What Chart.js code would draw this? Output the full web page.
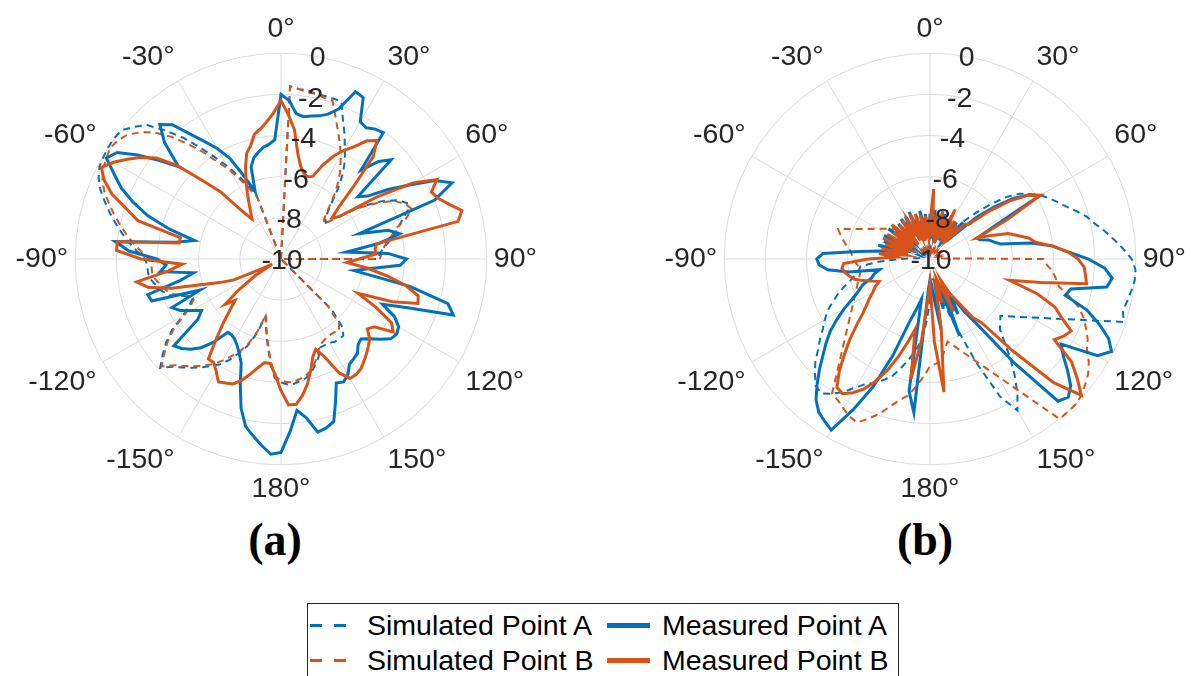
<!DOCTYPE html>
<html lang="en">
<head>
<meta charset="UTF-8">
<title>Radiation patterns, points A and B</title>
<style>
    body {
        margin: 0;
        width: 1191px;
        height: 676px;
        overflow: hidden;
        position: relative;
        background: #fff;
        font-family: "Liberation Sans", Arial, sans-serif;
        color: #262626;
    }
    canvas.plot {
        position: absolute;
        top: 13px;
    }
    .caption {
        position: absolute;
        top: 513px;
        width: 120px;
        text-align: center;
        font-family: "Liberation Serif", "DejaVu Serif", serif;
        font-weight: bold;
        font-size: 46px;
        color: #000;
    }
    .legend {
        position: absolute;
        left: 307px;
        top: 603px;
        width: 590px;
        height: 90px;
        border: 1px solid #262626;
        background: #fff;
    }
    .item {
        position: absolute;
        font-size: 28.5px;
        line-height: 34px;
        color: #000;
        white-space: nowrap;
    }
    .swatch {
        position: absolute;
    }
    .dash {
        width: 36px;
        height: 2.5px;
    }
    .solid {
        width: 43px;
        height: 5px;
    }
</style>
<script src="https://cdn.jsdelivr.net/npm/chart.js"></script>
</head>
<body>
<canvas id="plotA" class="plot" width="560" height="494" style="left:-3px"></canvas>
<canvas id="plotB" class="plot" width="560" height="494" style="left:646px"></canvas>
<div class="caption" style="left:215px">(a)</div>
<div class="caption" style="left:865px">(b)</div>

<div class="legend" id="legend"></div>

<script>
// angle grid: one sample every 3 degrees, 0 at top, clockwise
const angles = Array.from({length: 120}, (_, i) => i * 3);
const angleTicks = ['0°', '30°', '60°', '90°', '120°', '150°', '180°',
                    '-150°', '-120°', '-90°', '-60°', '-30°'];
const rTicks = [-10, -8, -6, -4, -2, 0];

// (a) gain in dB, rows of 30 degrees (0..177, then -180..-3)
// null = no sample, the trace runs straight across
const measuredA_a = [
    -2.0, -2.3, -2.9, -3.0, -2.9, -2.8, -2.6, -2.2, -1.1, -1.2,
    -2.3, -2.4, -2.2, -2.1, -4.2, -3.3, -2.8, -5.2, -4.8, -3.8,
    -2.8, -1.6, -0.9, -2.0, -6.0, -4.6, -4.1, -5.2, -6.8, -4.8,
    -3.9, -4.2, -5.6, -6.4, -3.6, -1.6, -1.2, -3.4, -4.6, -3.8,
    -3.4, -3.3, -3.4, -3.8, -4.2, -4.5, -4.4, -4.1, -4.0, -3.9,
    -3.5, -3.3, -3.4, -2.6, -1.7, -1.5, -1.4, -2.2, -2.6, -1.6,
    -0.6, -0.5, -0.9, -1.3, -1.7, -2.5, -3.6, -4.6, -5.0, -5.3,
    -5.5, -5.6, -5.6, -4.8, -4.2, -3.8, -3.5, -3.3, -5.0, -5.4,
    -5.0, -4.5, -4.2, -5.8, -3.4, -3.3, -5.0, -5.7, -4.1, -4.4,
    -4.0, -2.6, -1.9, -4.8, -5.7, -4.4, -3.2, -2.3, -1.5, -0.9,
    -0.2, -0.5, -1.4, -2.4, -3.3, -2.0, -1.2, -1.6, -2.5, -3.2,
    -3.8, -4.5, -5.6, -6.5, -5.3, -4.9, -4.7, -4.5, -4.4, -4.2
];
const measuredB_a = [
    -2.3, -3.0, -3.7, -4.8, -5.4, -5.7, -5.8, -5.7, -5.0, -4.4,
    -3.9, -3.5, -2.9, -2.6, -3.3, -5.0, -6.2, -6.8, -6.5, -4.5,
    -2.6, -1.5, -2.0, -1.8, -1.4, -0.9, -1.2, -5.3, -5.4, -5.4,
    -6.2, -6.8, -5.8, -4.8, -3.8, -3.1, -3.0, -4.2, -5.9, -4.8,
    -3.8, -3.5, -4.4, -4.6, -4.2, -4.0, -3.8, -3.6, -3.4, -3.3,
    -3.3, -3.8, -4.8, -5.3, -5.0, -4.4, -3.8, -3.3, -2.9, -2.9,
    -3.6, -4.4, -4.9, -4.9, -4.6, -4.2, -3.8, -3.5, -3.4, -3.3,
    -3.7, -4.0, -4.0, -5.0, -5.8, -6.5, -7.0, -6.5, -7.5, -8.5,
    -9.5, -9.0, -7.5, -6.8, -6.0, -4.5, -3.4, -2.9, -4.5, -5.2,
    -3.2, -2.0, -2.0, -5.0, -5.0, -2.8, -2.1, -1.2, -0.6, -0.2,
    -0.6, -1.1, -1.6, -2.2, -3.2, -4.6, -5.6, -7.0, -7.6, -7.3,
    -6.9, -6.4, -5.8, -5.2, -4.6, -4.3, -3.8, -3.6, -3.3, -2.9
];
const simulatedA_a = [
    -10, -1.6, -1.7, -1.7, -1.8, -1.8, -1.8, -1.8, -2.6, -3.2,
    -3.8, -4.3, -4.9, -5.6, -6.3, -6.8, -7.1, -7.2, -6.3, -5.3,
    -4.4, -3.7, -3.3, -3.4, -3.8, -4.1, -4.4, -4.7, -5.0, -5.2,
    -5.3, -10, -10, -10, -10, -10, -10, -10, -10, -10,
    -10, -10, -10, -10, -10, -6.5, -5.5, -5.2, -5.2, -5.2,
    -5.3, -5.3, -5.3, -4.9, -4.6, -4.3, -4.1, -4.0, -3.9, -3.9,
    -4.0, -4.2, -5.0, -5.8, -6.5, -7.1, -6.2, -5.5, -5.0, -4.5,
    -4.1, -3.8, -3.5, -3.2, -2.9, -2.6, -2.1, -2.6, -3.1, -3.7,
    -4.5, -5.0, -5.3, -5.0, -4.3, -4.0, -3.8, -3.6, -3.5, -3.5,
    -3.4, -3.0, -2.6, -2.2, -1.8, -1.4, -1.0, -0.6, -0.3, -0.1,
    -0.05, 0.0, 0.0, -0.05, -0.4, -0.8, -1.6, -2.4, -3.3, -4.1,
    -4.8, -5.5, -6.1, -6.6, -10, -10, -10, -10, -10, -10
];
const simulatedB_a = [
    -10, -1.6, -1.7, -1.8, -1.8, -1.9, -1.9, -2.6, -3.2, -3.7,
    -4.2, -4.7, -5.2, -5.8, -6.4, -6.9, -7.2, -7.3, -6.4, -5.4,
    -4.5, -3.8, -3.4, -3.2, -3.6, -4.2, -4.5, -4.8, -5.0, -5.1,
    -5.2, -10, -10, -10, -10, -10, -10, -10, -10, -10,
    -10, -10, -10, -10, -10, -6.8, -5.8, -5.5, -5.6, -5.6,
    -5.6, -5.5, -5.4, -5.0, -4.7, -4.4, -4.2, -4.1, -4.0, -4.0,
    -4.1, -4.3, -5.1, -5.9, -6.6, -7.2, -6.3, -5.6, -5.1, -4.7,
    -4.3, -3.9, -3.6, -3.3, -3.0, -2.7, -2.2, -2.7, -3.2, -3.8,
    -4.6, -5.1, -5.4, -5.1, -4.5, -4.2, -4.0, -3.8, -3.7, -3.7,
    -3.6, -3.2, -2.8, -2.4, -2.0, -1.6, -1.2, -0.8, -0.5, -0.3,
    -0.2, -0.1, -0.2, -0.4, -0.8, -1.3, -2.0, -2.8, -3.6, -4.4,
    -5.0, -5.7, -6.3, -6.8, -10, -10, -10, -10, -10, -10
];

// (b)
const measuredA_b = [
    -7.8, -9.0, -7.6, -8.8, -7.9, -9.2, -7.7, -8.6, -7.9, -9.0,
    -7.9, -8.8, -7.8, -8.6, -7.6, -8.4, -7.0, -6.0, -5.0, -4.3,
    -3.9, -6.5, -7.5, -7.4, -7.0, -6.8, -6.5, -5.0, -4.0, -3.3,
    -2.3, -1.5, -1.1, -1.3, -3.0, -3.2, -2.0, -1.2, -0.5, -0.1,
    -0.6, -2.4, -2.0, -1.4, -0.8, -0.5, -0.7, -3.5, -6.0, -7.0,
    -8.0, -7.0, -8.5, -6.0, -8.8, -7.5, -9.0, -6.5, -8.0, -8.8,
    -9.0, -8.5, -2.5, -3.5, -8.0, -7.5, -6.8, -5.0, -3.2, -1.8,
    -0.4, -0.6, -0.8, -1.2, -1.8, -2.4, -3.0, -3.5, -4.0, -4.6,
    -5.2, -5.8, -6.2, -6.5, -7.0, -7.2, -7.5, -6.0, -5.0, -4.6,
    -4.5, -4.8, -6.5, -7.5, -8.2, -7.4, -8.6, -7.6, -8.8, -7.5,
    -8.2, -9.0, -7.5, -8.4, -7.6, -8.8, -7.7, -9.0, -7.6, -8.3,
    -7.6, -8.9, -7.5, -8.6, -7.7, -9.0, -7.6, -8.5, -7.8, -8.9
];
const measuredB_b = [
    -8.3, -6.6, -8.9, -7.8, -9.2, -7.6, -8.7, -7.9, -8.9, -7.3,
    -8.6, -7.8, -9.0, -7.9, -8.7, -7.6, -7.5, -6.3, -5.2, -4.3,
    -3.8, -5.8, -7.5, -6.8, -6.0, -5.6, -5.1, -4.8, -4.0, -3.3,
    -2.8, -2.5, -2.4, -2.3, -4.5, -6.0, -4.5, -3.5, -3.0, -2.3,
    -2.5, -2.8, -1.5, -0.8, -0.1, -1.5, -4.0, -6.0, -6.5, -7.5,
    -8.0, -8.8, -7.2, -8.5, -9.0, -7.8, -8.6, -6.5, -3.5, -6.0,
    -8.8, -8.0, -6.0, -4.1, -6.5, -5.8, -5.0, -4.2, -3.5, -2.9,
    -2.5, -2.2, -2.3, -3.0, -3.8, -4.5, -5.2, -5.8, -6.2, -6.5,
    -6.8, -7.0, -7.3, -7.0, -6.6, -6.2, -6.0, -5.8, -5.7, -5.8,
    -7.0, -8.3, -7.5, -8.8, -7.6, -8.9, -7.7, -8.6, -7.5, -8.8,
    -7.6, -9.0, -7.8, -8.7, -7.5, -8.9, -7.8, -9.1, -7.7, -8.4,
    -7.9, -9.0, -7.6, -8.8, -7.7, -9.1, -7.8, -8.6, -7.9, -9.0
];
const simulatedA_b = [
    -9.6, -9.5, -9.6, -9.7, -9.6, -9.5, -9.6, -9.6, -9.5, -9.6,
    -9.6, -9.4, -9.0, -8.5, -7.5, -6.8, -6.0, -5.2, -4.6, -4.2,
    -3.8, -3.5, -3.2, -2.9, -2.5, -2.1, -1.8, -1.4, -1.0, -0.6,
    -0.2, 0.0, 0.0, -0.1, -0.2, -0.3, -0.1, null, null, null,
    null, null, null, -5.6, -5.4, -5.2, -4.6, -3.8, -3.0, -2.2,
    -1.5, -2.5, -4.5, -6.5, -7.5, -8.3, -8.8, -9.0, -9.0, -8.8,
    -8.0, -7.0, -6.0, -5.5, -5.0, -4.5, -4.0, -3.7, -3.4, -3.2,
    -2.8, -2.3, -1.9, -1.6, -1.7, -2.1, -2.5, -3.0, -3.4, -3.8,
    -4.1, -4.4, -4.8, -5.2, -5.6, -6.0, -6.3, -6.5, -6.6, -7.5,
    -8.5, -9.3, -9.5, -9.6, -9.5, -9.6, -9.4, -9.5, -9.6, -9.5,
    -9.6, -9.5, -9.6, -9.5, -9.6, -9.5, -9.6, -9.5, -9.6, -9.5,
    -9.6, -9.5, -9.6, -9.5, -9.6, -9.5, -9.6, -9.5, -9.6, -9.5
];
const simulatedB_b = [
    -9.5, -9.6, -9.5, -9.6, -9.5, -9.6, -9.5, -9.6, -9.5, -9.6,
    -9.5, -9.6, -9.5, -9.6, -9.5, -9.6, -9.5, -9.6, -9.5, -9.6,
    -9.5, -9.6, -9.5, -9.6, -9.5, -9.6, -9.5, -9.6, -9.5, -9.4,
    -4.5, -4.3, -4.0, -3.8, -3.6, -3.0, -2.4, -2.0, -1.7, -1.4,
    -1.2, -0.8, -0.5, -0.3, -0.1, 0.0, 0.0, 0.0, null, null,
    null, null, null, null, null, null, -5.9, -5.5, -5.0, -4.9,
    -4.8, -4.3, -3.8, -3.3, -3.0, -2.6, -2.1, -1.7, -1.3, -1.4,
    -1.6, -1.8, -1.9, null, null, null, null, null, null, null,
    null, null, null, null, null, null, null, -6.6, -6.5, -6.4,
    -6.3, -6.2, -6.1, -5.9, -5.7, -5.5, -5.3, null, null, null,
    null, null, null, null, -7.8, -9.5, -9.6, -9.5, -9.6, -9.5,
    -9.6, -9.5, -9.6, -9.5, -9.6, -9.5, -9.6, -9.5, -9.6, -9.5
];

const BLUE = '#0072BD';
const ORANGE = '#D95319';
const GRID = '#dcdcdc';
const TEXT = '#262626';
const FONT = '"Liberation Sans", Arial, sans-serif';

const series = [
    {label: 'Simulated Point A', color: BLUE, dashed: true},
    {label: 'Simulated Point B', color: ORANGE, dashed: true},
    {label: 'Measured Point A', color: BLUE, dashed: false},
    {label: 'Measured Point B', color: ORANGE, dashed: false}
];

Chart.defaults.font.family = FONT;

// r tick labels sit along the 10 degree ray
const rTickLabels = {
    id: 'rTickLabels',
    afterDatasetsDraw(chart) {
        const r = chart.scales.r;
        const ctx = chart.ctx;
        const idx = 10 / 3;
        ctx.save();
        ctx.font = '28.5px ' + FONT;
        ctx.fillStyle = TEXT;
        ctx.textAlign = 'center';
        ctx.textBaseline = 'middle';
        rTicks.forEach(v => {
            const p = r.getPointPositionForValue(idx, v);
            ctx.fillText(String(v), p.x + 1, p.y + 2);
        });
        ctx.restore();
    }
};

function makePlot(id, data) {
    const datasets = series.map((s, i) => ({
        label: s.label,
        data: data[i],
        borderColor: s.color,
        borderWidth: s.dashed ? 2 : 3,
        borderDash: s.dashed ? [7, 5] : [],
        pointRadius: 0,
        fill: false,
        tension: 0,
        spanGaps: true,
        order: 4 - i
    }));

    return new Chart(document.getElementById(id), {
        type: 'radar',
        data: {
            labels: angles,
            datasets: datasets
        },
        options: {
            responsive: false,
            animation: false,
            events: [],
            plugins: {
                legend: {display: false},
                tooltip: {enabled: false}
            },
            scales: {
                r: {
                    min: -10,
                    max: 0,
                    startAngle: 0,
                    ticks: {display: false, stepSize: 2},
                    grid: {circular: true, color: GRID, lineWidth: 1},
                    angleLines: {
                        color: GRID,
                        lineWidth: c => (c.index % 10 === 0 ? 1 : 0)
                    },
                    pointLabels: {
                        display: true,
                        padding: 7,
                        color: TEXT,
                        font: {size: 28.5, family: FONT},
                        callback: (v, i) => (i % 10 === 0 ? angleTicks[i / 10] : '')
                    }
                }
            }
        },
        plugins: [rTickLabels]
    });
}

makePlot('plotA', [simulatedA_a, simulatedB_a, measuredA_a, measuredB_a]);
makePlot('plotB', [simulatedA_b, simulatedB_b, measuredA_b, measuredB_b]);

// legend laid out in two columns, row by row
const legend = document.getElementById('legend');
const cells = [
    {s: series[0], x: 0, y: 0},
    {s: series[2], x: 1, y: 0},
    {s: series[1], x: 0, y: 1},
    {s: series[3], x: 1, y: 1}
];
cells.forEach(c => {
    const sw = document.createElement('div');
    const top = 4 + c.y * 35;
    if (c.s.dashed) {
        sw.className = 'swatch dash';
        sw.style.left = (2 + c.x * 297) + 'px';
        sw.style.top = (top + 16) + 'px';
        sw.style.background = `linear-gradient(to right, ${c.s.color} 0 12px, transparent 12px 24px, ${c.s.color} 24px 36px)`;
    } else {
        sw.className = 'swatch solid';
        sw.style.left = (299 + (c.x - 1) * 297) + 'px';
        sw.style.top = (top + 15) + 'px';
        sw.style.background = c.s.color;
    }
    legend.appendChild(sw);
    const tx = document.createElement('div');
    tx.className = 'item';
    tx.style.left = (59 + c.x * 295) + 'px';
    tx.style.top = top + 'px';
    tx.textContent = c.s.label;
    legend.appendChild(tx);
});
</script>
</body>
</html>
